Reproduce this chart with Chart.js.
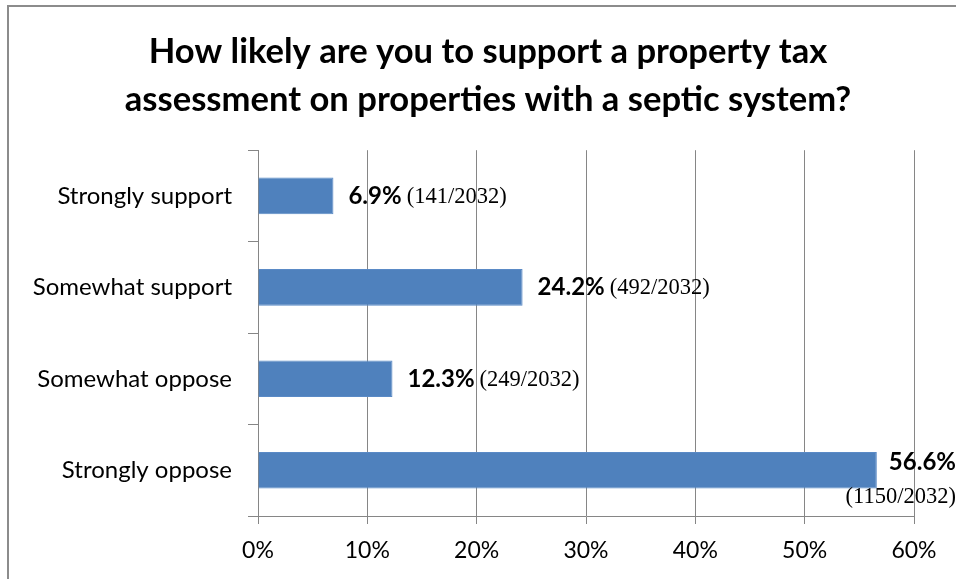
<!DOCTYPE html>
<html>
<head>
<meta charset="utf-8">
<script src="https://cdn.jsdelivr.net/npm/chart.js@4"></script>
<style>
  html, body { margin: 0; padding: 0; background: #fff; overflow: hidden; }
  #wrap { position: relative; width: 956px; height: 579px; }
  #frame {
    position: absolute; left: 7px; top: 5px; width: 1000px; height: 700px;
    border: 2px solid #8c8c8c; pointer-events: none;
  }
</style>
</head>
<body>
<div id="wrap">
  <canvas id="chart" width="956" height="579"></canvas>
  <div id="frame"></div>
</div>
<script>
// Chart data
const categories = ['Strongly support', 'Somewhat support', 'Somewhat oppose', 'Strongly oppose'];
const percents = [6.9, 24.2, 12.3, 56.6];
const counts = [141, 492, 249, 1150];
const total = 2032;
const axisMax = 60;
const axisStep = 10;

const gridColor = '#868686';
const labelFont = 'Lato, "Open Sans", sans-serif';

// Draws "xx.x% (n/total)" to the right of each bar
const valueLabels = {
  id: 'valueLabels',
  afterDatasetsDraw(chart) {
    const ctx = chart.ctx;
    const meta = chart.getDatasetMeta(0);
    const area = chart.chartArea;
    ctx.save();
    ctx.fillStyle = '#000';
    ctx.textBaseline = 'middle';
    meta.data.forEach((bar, i) => {
      const pct = percents[i].toFixed(1) + '%';
      const frac = '(' + counts[i] + '/' + total + ')';
      const boldFont = 'bold 24px ' + labelFont;
      const fracFont = '22.5px "Liberation Serif", "DejaVu Serif", serif';
      ctx.font = boldFont;
      const w1 = ctx.measureText(pct).width;
      ctx.font = fracFont;
      const w2 = ctx.measureText(frac).width;
      const x = bar.x + 15;
      if (x + w1 + 5 + w2 > area.right + 42) {
        // not enough room: stack the two parts at the right edge
        ctx.textAlign = 'right';
        ctx.font = boldFont;
        ctx.fillText(pct, area.right + 42, bar.y - 8);
        ctx.font = fracFont;
        ctx.fillText(frac, area.right + 42, bar.y + 27);
      } else {
        ctx.textAlign = 'left';
        ctx.font = boldFont;
        ctx.fillText(pct, x, bar.y);
        ctx.font = fracFont;
        ctx.fillText(frac, x + w1 + 5, bar.y + 1);
      }
    });
    ctx.restore();
  }
};

// Centre the title over the whole framed box, not just the canvas minus padding
const titleSpan = {
  id: 'titleSpan',
  afterLayout(chart) {
    chart.titleBlock.left = 20;
    chart.titleBlock.right = chart.width;
  }
};

new Chart(document.getElementById('chart'), {
  type: 'bar',
  data: {
    labels: categories,
    datasets: [{
      data: percents,
      backgroundColor: '#4f81bd',
      borderColor: '#5a8ac6',
      borderWidth: 1,
      categoryPercentage: 1,
      barPercentage: 0.4
    }]
  },
  options: {
    indexAxis: 'y',
    responsive: false,
    animation: false,
    layout: { padding: { left: 0, right: 42, top: 0, bottom: 0 } },
    plugins: {
      legend: { display: false },
      tooltip: { enabled: false },
      title: {
        display: true,
        text: ['How likely are you to support a property tax',
               'assessment on properties with a septic system?'],
        color: '#000',
        font: { family: labelFont, size: 34.6, weight: 'bold', lineHeight: 1.39 },
        padding: { top: 28, bottom: 26 }
      }
    },
    scales: {
      x: {
        min: 0,
        max: axisMax,
        ticks: {
          stepSize: axisStep,
          color: '#000',
          font: { family: labelFont, size: 23 },
          padding: 13,
          callback: v => v + '%'
        },
        grid: { color: gridColor, tickLength: 8 },
        border: { color: gridColor },
        afterFit: s => { s.height = 63; s.paddingLeft = 0; s.paddingRight = 0; }
      },
      y: {
        ticks: {
          color: '#000',
          font: { family: labelFont, size: 24 },
          padding: 16
        },
        grid: { drawOnChartArea: false, color: gridColor, tickLength: 10 },
        border: { color: gridColor },
        afterFit: s => { s.width = 258; }
      }
    }
  },
  plugins: [valueLabels, titleSpan]
});
</script>
</body>
</html>
